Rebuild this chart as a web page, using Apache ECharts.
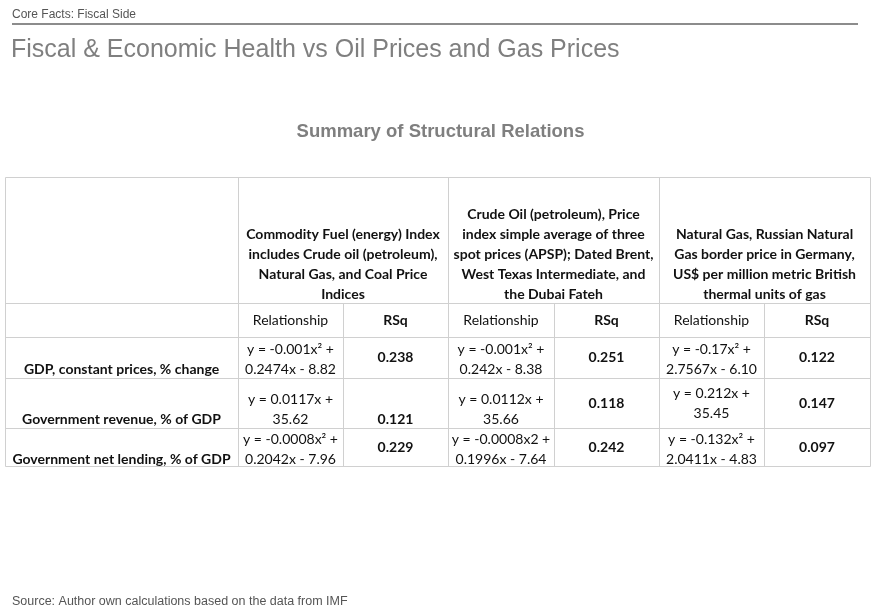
<!DOCTYPE html>
<html>
<head>
<meta charset="utf-8">
<script src="https://cdn.jsdelivr.net/npm/echarts@6/dist/echarts.min.js"></script>
<style>
  html, body { margin: 0; padding: 0; background: #fff; }
  #chartmain { width: 881px; height: 613px; }
</style>
</head>
<body>
<div id="chartmain"></div>
<script>
// table content
var indexNames = [
    'Commodity Fuel (energy) Index\nincludes Crude oil (petroleum),\nNatural Gas, and Coal Price\nIndices',
    'Crude Oil (petroleum), Price\nindex simple average of three\nspot prices (APSP); Dated Brent,\nWest Texas Intermediate, and\nthe Dubai Fateh',
    'Natural Gas, Russian Natural\nGas border price in Germany,\nUS$ per million metric British\nthermal units of gas'
];
var subHeaders = ['Relationship', 'RSq'];
var rowLabels = [
    'GDP, constant prices, % change',
    'Government revenue, % of GDP',
    'Government net lending, % of GDP'
];
var fuelRel = ['y = -0.001x\u00b2 +\n0.2474x - 8.82', 'y = 0.0117x +\n35.62', 'y = -0.0008x\u00b2 +\n0.2042x - 7.96'];
var crudeRel = ['y = -0.001x\u00b2 +\n0.242x - 8.38', 'y = 0.0112x +\n35.66', 'y = -0.0008x2 +\n0.1996x - 7.64'];
var gasRel = ['y = -0.17x\u00b2 +\n2.7567x - 6.10', 'y = 0.212x +\n35.45', 'y = -0.132x\u00b2 +\n2.0411x - 4.83'];
var fuelRsq = [0.238, 0.121, 0.229];
var crudeRsq = [0.251, 0.118, 0.242];
var gasRsq = [0.122, 0.147, 0.097];

// layout (pixels)
var colEdges = [5, 238, 343, 448, 554, 659, 764, 870];
var rowEdges = [177, 303, 337, 378, 428, 466];
// distance from a row's bottom line to the centre of its last text line
var rowPad = [9, 9, 9, 9, 7];
// vertical placement of the body cells, per index: [relationship, rsq] for each row
var relAlign = [['bottom', 'bottom', 'bottom'], ['bottom', 'bottom', 'middle'], ['bottom', 'bottom', 'bottom']];
var rsqAlign = [['middle', 'middle', 'middle'], ['bottom', 'middle', 'middle'], ['middle', 'middle', 'middle']];

var cellFont = 'Lato';
var lineColor = '#d0d0d0';

window.onload = function () {
    var rels = [fuelRel, crudeRel, gasRel];
    var rsqs = [fuelRsq, crudeRsq, gasRsq];

    // cells: [colStart, colEnd, row]
    var cells = [];
    var cellInfo = [];
    function addCell(c0, c1, r, text, bold, valign) {
        cells.push([c0, c1, r]);
        cellInfo.push({ text: text, bold: bold, valign: valign });
    }
    indexNames.forEach(function (name, k) {
        addCell(1 + 2 * k, 3 + 2 * k, 0, name, true, 'bottom');
        addCell(1 + 2 * k, 2 + 2 * k, 1, subHeaders[0], false, 'middle');
        addCell(2 + 2 * k, 3 + 2 * k, 1, subHeaders[1], true, 'middle');
    });
    rowLabels.forEach(function (label, r) {
        addCell(0, 1, r + 2, label, true, 'bottom');
        for (var k = 0; k < 3; k++) {
            addCell(1 + 2 * k, 2 + 2 * k, r + 2, rels[k][r], false, relAlign[r][k]);
            addCell(2 + 2 * k, 3 + 2 * k, r + 2, rsqs[k][r].toFixed(3), true, rsqAlign[r][k]);
        }
    });

    // grid lines: [x0, x1, y0, y1] as edge indices
    var lines = [];
    rowEdges.forEach(function (y, i) { lines.push([0, colEdges.length - 1, i, i]); });
    colEdges.forEach(function (x, i) {
        var start = (i === 2 || i === 4 || i === 6) ? 1 : 0;
        lines.push([i, i, start, rowEdges.length - 1]);
    });

    option = {
        animation: false,
        backgroundColor: '#fff',
        title: [
            { text: 'Core Facts: Fiscal Side', left: 12, top: 9, padding: 0,
              textStyle: { fontFamily: 'Liberation Sans', fontSize: 12, fontWeight: 'normal', color: '#555' } },
            { text: 'Fiscal & Economic Health vs Oil Prices and Gas Prices', left: 11, top: 38, padding: 0,
              textStyle: { fontFamily: 'Liberation Sans', fontSize: 25, fontWeight: 'normal', color: '#7f7f7f' } },
            { text: 'Summary of Structural Relations', left: 'center', top: 122, padding: 0,
              textStyle: { fontFamily: 'Liberation Sans', fontSize: 18.5, fontWeight: 'bold', color: '#7f7f7f' } },
            { text: 'Source: Author own calculations based on the data from IMF', left: 12, top: 595, padding: 0,
              textStyle: { fontFamily: 'Liberation Sans', fontSize: 12.5, fontWeight: 'normal', color: '#555' } }
        ],
        graphic: [
            { type: 'line', shape: { x1: 12, y1: 24, x2: 858, y2: 24 }, style: { stroke: '#666', lineWidth: 1.5 } }
        ],
        grid: { left: 0, right: 0, top: 0, bottom: 0 },
        xAxis: { type: 'value', min: 0, max: 881, show: false },
        yAxis: { type: 'value', min: 0, max: 613, inverse: true, show: false },
        series: [
            {
                type: 'custom',
                data: lines,
                silent: true,
                renderItem: function (params, api) {
                    var p0 = api.coord([colEdges[api.value(0)], rowEdges[api.value(2)]]);
                    var p1 = api.coord([colEdges[api.value(1)], rowEdges[api.value(3)]]);
                    return {
                        type: 'line',
                        shape: { x1: Math.round(p0[0]) + 0.5, y1: Math.round(p0[1]) + 0.5,
                                 x2: Math.round(p1[0]) + 0.5, y2: Math.round(p1[1]) + 0.5 },
                        style: { stroke: lineColor, lineWidth: 1 }
                    };
                }
            },
            {
                type: 'custom',
                data: cells,
                silent: true,
                renderItem: function (params, api) {
                    var info = cellInfo[params.dataIndex];
                    var r = api.value(2);
                    var left = api.coord([colEdges[api.value(0)], rowEdges[r]]);
                    var right = api.coord([colEdges[api.value(1)], rowEdges[r + 1]]);
                    var cx = (left[0] + right[0]) / 2;
                    var y = info.valign === 'middle' ? (left[1] + right[1]) / 2 : right[1] - rowPad[r] + 10;
                    return {
                        type: 'text',
                        x: cx,
                        y: y,
                        style: {
                            text: info.text,
                            fontFamily: cellFont,
                            fontSize: 14,
                            fontWeight: info.bold ? 'bold' : 'normal',
                            fill: '#111',
                            lineHeight: 20,
                            align: 'center',
                            verticalAlign: info.valign,
                            textAlign: 'center',
                            textVerticalAlign: info.valign
                        }
                    };
                }
            }
        ]
    };

    var myChart = echarts.init(document.getElementById('chartmain'));
    myChart.setOption(option);
};
</script>
</body>
</html>
